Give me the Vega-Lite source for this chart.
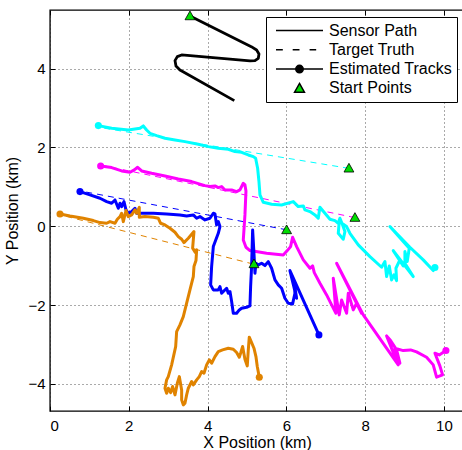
{
  "$schema": "https://vega.github.io/schema/vega-lite/v6.json",
  "autosize": {"type": "none"},
  "width": 414,
  "height": 401,
  "padding": {"left": 50, "top": 10, "right": 0, "bottom": 39},
  "background": "white",
  "config": {
    "view": {"stroke": "black", "strokeWidth": 1.4},
    "font": "Liberation Sans",
    "axis": {
      "labelFont": "Liberation Sans", "labelFontSize": 15, "labelColor": "black",
      "titleFont": "Liberation Sans", "titleFontSize": 16, "titleFontWeight": "normal", "titleColor": "black",
      "gridColor": "#555", "gridDash": [1, 3], "gridWidth": 1, "gridOpacity": 1,
      "domain": false, "tickColor": "black", "tickSize": -5, "tickWidth": 1
    }
  },
  "datasets": {
    "truth": [
      {"t": "c", "i": 0, "x": 7.59, "y": 1.47}, {"t": "c", "i": 1, "x": 1.25, "y": 2.51},
      {"t": "m", "i": 0, "x": 7.74, "y": 0.22}, {"t": "m", "i": 1, "x": 1.3, "y": 1.55},
      {"t": "b", "i": 0, "x": 6.01, "y": -0.09}, {"t": "b", "i": 1, "x": 0.8, "y": 0.89},
      {"t": "o", "i": 0, "x": 5.16, "y": -0.96}, {"t": "o", "i": 1, "x": 0.3, "y": 0.28}
    ],
    "sensor": [
      {"i": 0, "x": 3.553, "y": 5.338}, {"i": 1, "x": 5.11, "y": 4.56}, {"i": 2, "x": 5.245, "y": 4.475},
      {"i": 3, "x": 5.305, "y": 4.374}, {"i": 4, "x": 5.288, "y": 4.264}, {"i": 5, "x": 5.203, "y": 4.205},
      {"i": 6, "x": 5.076, "y": 4.196}, {"i": 7, "x": 3.342, "y": 4.349}, {"i": 8, "x": 3.232, "y": 4.306},
      {"i": 9, "x": 3.173, "y": 4.205}, {"i": 10, "x": 3.198, "y": 4.069}, {"i": 11, "x": 3.299, "y": 3.968},
      {"i": 12, "x": 4.679, "y": 3.19}
    ],
    "ends": [
      {"t": "c", "x": 1.227, "y": 2.555}, {"t": "c", "x": 9.772, "y": -1.049},
      {"t": "m", "x": 1.286, "y": 1.531}, {"t": "m", "x": 10.051, "y": -3.156},
      {"t": "b", "x": 0.761, "y": 0.88}, {"t": "b", "x": 6.827, "y": -2.758},
      {"t": "o", "x": 0.254, "y": 0.313}, {"t": "o", "x": 5.313, "y": -3.833}
    ],
    "starts": [
      {"kind": "Start Points", "x": 3.553, "y": 5.338},
      {"kind": "Start Points", "x": 7.589, "y": 1.472},
      {"kind": "Start Points", "x": 7.741, "y": 0.22},
      {"kind": "Start Points", "x": 6.007, "y": -0.093},
      {"kind": "Start Points", "x": 5.178, "y": -0.956}
    ],
    "tracks": [
      {"t":"c","i":0,"x":1.227,"y":2.555},{"t":"c","i":1,"x":1.565,"y":2.487},{"t":"c","i":2,"x":1.988,"y":2.445},
      {"t":"c","i":3,"x":2.284,"y":2.487},{"t":"c","i":4,"x":2.369,"y":2.547},{"t":"c","i":5,"x":2.453,"y":2.445},
      {"t":"c","i":6,"x":2.538,"y":2.36},{"t":"c","i":7,"x":2.707,"y":2.301},{"t":"c","i":8,"x":2.919,"y":2.234},
      {"t":"c","i":9,"x":3.173,"y":2.191},{"t":"c","i":10,"x":3.426,"y":2.149},{"t":"c","i":11,"x":3.765,"y":2.081},
      {"t":"c","i":12,"x":4.019,"y":2.022},{"t":"c","i":13,"x":4.272,"y":1.98},{"t":"c","i":14,"x":4.526,"y":1.954},
      {"t":"c","i":15,"x":4.695,"y":1.895},{"t":"c","i":16,"x":4.865,"y":1.878},{"t":"c","i":17,"x":5.034,"y":1.81},
      {"t":"c","i":18,"x":5.161,"y":1.768},{"t":"c","i":19,"x":5.22,"y":1.726},{"t":"c","i":20,"x":5.271,"y":1.472},
      {"t":"c","i":21,"x":5.305,"y":1.134},{"t":"c","i":22,"x":5.33,"y":0.795},{"t":"c","i":23,"x":5.415,"y":0.609},
      {"t":"c","i":24,"x":5.626,"y":0.558},{"t":"c","i":25,"x":5.88,"y":0.541},{"t":"c","i":26,"x":6.176,"y":0.626},
      {"t":"c","i":27,"x":6.303,"y":0.499},{"t":"c","i":28,"x":6.43,"y":0.516},{"t":"c","i":29,"x":6.472,"y":0.415},
      {"t":"c","i":30,"x":6.599,"y":0.372},{"t":"c","i":31,"x":6.726,"y":0.288},{"t":"c","i":32,"x":6.81,"y":0.203},
      {"t":"c","i":33,"x":6.853,"y":0.482},{"t":"c","i":34,"x":6.98,"y":0.33},{"t":"c","i":35,"x":7.107,"y":0.178},
      {"t":"c","i":36,"x":7.234,"y":0.144},{"t":"c","i":37,"x":7.318,"y":0.076},{"t":"c","i":38,"x":7.36,"y":0.203},
      {"t":"c","i":39,"x":7.428,"y":0.034},{"t":"c","i":40,"x":7.487,"y":-0.135},{"t":"c","i":41,"x":7.445,"y":-0.33},
      {"t":"c","i":42,"x":7.318,"y":-0.178},{"t":"c","i":43,"x":7.343,"y":0.118},{"t":"c","i":44,"x":7.53,"y":-0.008},
      {"t":"c","i":45,"x":7.614,"y":-0.178},{"t":"c","i":46,"x":7.826,"y":-0.474},{"t":"c","i":47,"x":8.122,"y":-0.77},
      {"t":"c","i":48,"x":8.418,"y":-1.041},{"t":"c","i":49,"x":8.503,"y":-0.897},{"t":"c","i":50,"x":8.545,"y":-1.277},
      {"t":"c","i":51,"x":8.613,"y":-1.007},{"t":"c","i":52,"x":8.672,"y":-1.362},{"t":"c","i":53,"x":8.731,"y":-1.235},
      {"t":"c","i":54,"x":8.799,"y":-1.379},{"t":"c","i":55,"x":8.782,"y":-1.066},{"t":"c","i":56,"x":8.883,"y":-0.854},
      {"t":"c","i":57,"x":8.968,"y":-1.007},{"t":"c","i":58,"x":8.714,"y":-0.618},{"t":"c","i":59,"x":9.222,"y":-1.277},
      {"t":"c","i":60,"x":9.01,"y":-0.939},{"t":"c","i":61,"x":9.01,"y":-0.643},{"t":"c","i":62,"x":9.069,"y":-0.897},
      {"t":"c","i":63,"x":9.12,"y":-0.558},{"t":"c","i":64,"x":8.629,"y":-0.008},{"t":"c","i":65,"x":9.137,"y":-0.533},
      {"t":"c","i":66,"x":9.475,"y":-0.854},{"t":"c","i":67,"x":9.729,"y":-1.125},{"t":"c","i":68,"x":9.772,"y":-1.049},

      {"t":"m","i":0,"x":1.286,"y":1.531},{"t":"m","i":1,"x":1.565,"y":1.489},{"t":"m","i":2,"x":1.819,"y":1.404},
      {"t":"m","i":3,"x":2.03,"y":1.371},{"t":"m","i":4,"x":2.14,"y":1.43},{"t":"m","i":5,"x":2.225,"y":1.497},
      {"t":"m","i":6,"x":2.327,"y":1.404},{"t":"m","i":7,"x":2.58,"y":1.345},{"t":"m","i":8,"x":2.919,"y":1.277},
      {"t":"m","i":9,"x":3.257,"y":1.201},{"t":"m","i":10,"x":3.596,"y":1.134},{"t":"m","i":11,"x":3.934,"y":1.032},
      {"t":"m","i":12,"x":4.061,"y":1.007},{"t":"m","i":13,"x":4.188,"y":1.024},{"t":"m","i":14,"x":4.272,"y":0.981},
      {"t":"m","i":15,"x":4.357,"y":1.007},{"t":"m","i":16,"x":4.442,"y":0.922},{"t":"m","i":17,"x":4.611,"y":0.922},
      {"t":"m","i":18,"x":4.738,"y":0.88},{"t":"m","i":19,"x":4.822,"y":0.922},{"t":"m","i":20,"x":4.907,"y":1.091},
      {"t":"m","i":21,"x":4.949,"y":1.049},{"t":"m","i":22,"x":4.975,"y":0.897},{"t":"m","i":23,"x":4.949,"y":0.288},
      {"t":"m","i":24,"x":4.907,"y":-0.347},{"t":"m","i":25,"x":4.975,"y":-0.533},{"t":"m","i":26,"x":5.076,"y":-0.618},
      {"t":"m","i":27,"x":5.499,"y":-0.685},{"t":"m","i":28,"x":5.922,"y":-0.728},{"t":"m","i":29,"x":6.024,"y":-0.618},
      {"t":"m","i":30,"x":6.108,"y":-0.516},{"t":"m","i":31,"x":6.159,"y":-0.279},{"t":"m","i":32,"x":6.261,"y":-0.516},
      {"t":"m","i":33,"x":6.43,"y":-0.854},{"t":"m","i":34,"x":6.599,"y":-1.066},{"t":"m","i":35,"x":6.667,"y":-1.007},
      {"t":"m","i":36,"x":6.709,"y":-1.176},{"t":"m","i":37,"x":6.853,"y":-1.447},{"t":"m","i":38,"x":7.022,"y":-1.743},
      {"t":"m","i":39,"x":7.149,"y":-1.997},{"t":"m","i":40,"x":7.259,"y":-2.208},{"t":"m","i":41,"x":7.191,"y":-1.32},
      {"t":"m","i":42,"x":7.343,"y":-2.25},{"t":"m","i":43,"x":7.403,"y":-1.87},{"t":"m","i":44,"x":7.53,"y":-2.208},
      {"t":"m","i":45,"x":7.572,"y":-1.701},{"t":"m","i":46,"x":7.699,"y":-2.124},{"t":"m","i":47,"x":7.783,"y":-1.954},
      {"t":"m","i":48,"x":7.91,"y":-2.208},{"t":"m","i":49,"x":7.276,"y":-0.939},{"t":"m","i":50,"x":7.953,"y":-2.25},
      {"t":"m","i":51,"x":8.841,"y":-3.519},{"t":"m","i":52,"x":8.545,"y":-2.783},{"t":"m","i":53,"x":8.646,"y":-2.902},
      {"t":"m","i":54,"x":8.799,"y":-3.139},{"t":"m","i":55,"x":8.883,"y":-3.477},{"t":"m","i":56,"x":8.756,"y":-3.096},
      {"t":"m","i":57,"x":8.968,"y":-3.156},{"t":"m","i":58,"x":9.154,"y":-3.139},{"t":"m","i":59,"x":9.306,"y":-3.19},
      {"t":"m","i":60,"x":9.56,"y":-3.325},{"t":"m","i":61,"x":9.729,"y":-3.519},{"t":"m","i":62,"x":9.814,"y":-3.832},
      {"t":"m","i":63,"x":9.966,"y":-3.773},{"t":"m","i":64,"x":9.898,"y":-3.545},{"t":"m","i":65,"x":9.772,"y":-3.223},
      {"t":"m","i":66,"x":9.882,"y":-3.266},{"t":"m","i":67,"x":10.051,"y":-3.156},

      {"t":"b","i":0,"x":0.761,"y":0.88},{"t":"b","i":1,"x":1.015,"y":0.795},{"t":"b","i":2,"x":1.269,"y":0.711},
      {"t":"b","i":3,"x":1.438,"y":0.626},{"t":"b","i":4,"x":1.565,"y":0.584},{"t":"b","i":5,"x":1.65,"y":0.668},
      {"t":"b","i":6,"x":1.734,"y":0.457},{"t":"b","i":7,"x":1.777,"y":0.584},{"t":"b","i":8,"x":1.819,"y":0.499},
      {"t":"b","i":9,"x":1.878,"y":0.626},{"t":"b","i":10,"x":1.929,"y":0.415},{"t":"b","i":11,"x":1.988,"y":0.33},
      {"t":"b","i":12,"x":2.073,"y":0.372},{"t":"b","i":13,"x":2.157,"y":0.457},{"t":"b","i":14,"x":2.2,"y":0.33},
      {"t":"b","i":15,"x":2.284,"y":0.33},{"t":"b","i":16,"x":2.623,"y":0.33},{"t":"b","i":17,"x":2.961,"y":0.313},
      {"t":"b","i":18,"x":3.299,"y":0.288},{"t":"b","i":19,"x":3.469,"y":0.262},{"t":"b","i":20,"x":3.638,"y":0.288},
      {"t":"b","i":21,"x":3.723,"y":0.203},{"t":"b","i":22,"x":3.807,"y":0.245},{"t":"b","i":23,"x":3.934,"y":0.161},
      {"t":"b","i":24,"x":4.061,"y":0.203},{"t":"b","i":25,"x":4.146,"y":0.33},{"t":"b","i":26,"x":4.188,"y":0.313},
      {"t":"b","i":27,"x":4.23,"y":0.034},{"t":"b","i":28,"x":4.272,"y":0.118},{"t":"b","i":29,"x":4.315,"y":-0.008},
      {"t":"b","i":30,"x":4.272,"y":-0.178},{"t":"b","i":31,"x":4.146,"y":-0.516},{"t":"b","i":32,"x":4.103,"y":-1.024},
      {"t":"b","i":33,"x":4.078,"y":-1.489},{"t":"b","i":34,"x":4.146,"y":-1.616},{"t":"b","i":35,"x":4.272,"y":-1.616},
      {"t":"b","i":36,"x":4.315,"y":-1.531},{"t":"b","i":37,"x":4.357,"y":-1.701},{"t":"b","i":38,"x":4.484,"y":-1.574},
      {"t":"b","i":39,"x":4.526,"y":-1.701},{"t":"b","i":40,"x":4.569,"y":-1.658},{"t":"b","i":41,"x":4.611,"y":-1.912},
      {"t":"b","i":42,"x":4.653,"y":-2.208},{"t":"b","i":43,"x":4.738,"y":-2.208},{"t":"b","i":44,"x":4.805,"y":-2.124},
      {"t":"b","i":45,"x":4.865,"y":-2.081},{"t":"b","i":46,"x":4.992,"y":-2.056},{"t":"b","i":47,"x":5.076,"y":-2.022},
      {"t":"b","i":48,"x":5.093,"y":-1.531},{"t":"b","i":49,"x":5.118,"y":-1.024},{"t":"b","i":50,"x":5.144,"y":-0.093},
      {"t":"b","i":51,"x":5.178,"y":-0.685},{"t":"b","i":52,"x":5.203,"y":-1.193},{"t":"b","i":53,"x":5.228,"y":-0.939},
      {"t":"b","i":54,"x":5.288,"y":-0.981},{"t":"b","i":55,"x":5.372,"y":-0.939},{"t":"b","i":56,"x":5.457,"y":-0.998},
      {"t":"b","i":57,"x":5.541,"y":-0.897},{"t":"b","i":58,"x":5.626,"y":-1.066},{"t":"b","i":59,"x":5.711,"y":-1.362},
      {"t":"b","i":60,"x":5.795,"y":-1.489},{"t":"b","i":61,"x":5.88,"y":-1.574},{"t":"b","i":62,"x":5.964,"y":-1.827},
      {"t":"b","i":63,"x":6.049,"y":-1.954},{"t":"b","i":64,"x":6.159,"y":-1.971},{"t":"b","i":65,"x":6.218,"y":-1.701},
      {"t":"b","i":66,"x":6.193,"y":-1.404},{"t":"b","i":67,"x":6.261,"y":-1.827},{"t":"b","i":68,"x":6.091,"y":-1.125},
      {"t":"b","i":69,"x":6.827,"y":-2.758},

      {"t":"o","i":0,"x":0.254,"y":0.313},{"t":"o","i":1,"x":0.508,"y":0.262},{"t":"o","i":2,"x":0.846,"y":0.203},
      {"t":"o","i":3,"x":1.1,"y":0.144},{"t":"o","i":4,"x":1.269,"y":0.093},{"t":"o","i":5,"x":1.438,"y":0.076},
      {"t":"o","i":6,"x":1.523,"y":0.118},{"t":"o","i":7,"x":1.65,"y":0.076},{"t":"o","i":8,"x":1.709,"y":0.178},
      {"t":"o","i":9,"x":1.777,"y":0.245},{"t":"o","i":10,"x":1.819,"y":0.33},{"t":"o","i":11,"x":1.861,"y":0.118},
      {"t":"o","i":12,"x":1.929,"y":0.398},{"t":"o","i":13,"x":1.988,"y":0.245},{"t":"o","i":14,"x":2.073,"y":0.288},
      {"t":"o","i":15,"x":2.157,"y":0.415},{"t":"o","i":16,"x":2.2,"y":0.33},{"t":"o","i":17,"x":2.267,"y":0.482},
      {"t":"o","i":18,"x":2.267,"y":0.228},{"t":"o","i":19,"x":2.411,"y":0.245},{"t":"o","i":20,"x":2.623,"y":0.228},
      {"t":"o","i":21,"x":2.75,"y":0.203},{"t":"o","i":22,"x":2.809,"y":0.076},{"t":"o","i":23,"x":2.919,"y":0.034},
      {"t":"o","i":24,"x":3.046,"y":-0.051},{"t":"o","i":25,"x":3.173,"y":-0.152},{"t":"o","i":26,"x":3.257,"y":-0.262},
      {"t":"o","i":27,"x":3.342,"y":-0.33},{"t":"o","i":28,"x":3.401,"y":-0.415},{"t":"o","i":29,"x":3.511,"y":-0.305},
      {"t":"o","i":30,"x":3.655,"y":-0.135},{"t":"o","i":31,"x":3.621,"y":-0.558},{"t":"o","i":32,"x":3.689,"y":-0.668},
      {"t":"o","i":33,"x":3.723,"y":-0.601},{"t":"o","i":34,"x":3.706,"y":-0.871},{"t":"o","i":35,"x":3.655,"y":-1.024},
      {"t":"o","i":36,"x":3.638,"y":-1.277},{"t":"o","i":37,"x":3.553,"y":-1.616},{"t":"o","i":38,"x":3.469,"y":-1.954},
      {"t":"o","i":39,"x":3.384,"y":-2.293},{"t":"o","i":40,"x":3.299,"y":-2.504},{"t":"o","i":41,"x":3.215,"y":-2.673},
      {"t":"o","i":42,"x":3.19,"y":-3.054},{"t":"o","i":43,"x":3.088,"y":-3.519},{"t":"o","i":44,"x":3.003,"y":-3.816},
      {"t":"o","i":45,"x":2.961,"y":-3.9},{"t":"o","i":46,"x":2.919,"y":-4.112},{"t":"o","i":47,"x":2.961,"y":-4.239},
      {"t":"o","i":48,"x":3.003,"y":-4.112},{"t":"o","i":49,"x":3.063,"y":-4.222},{"t":"o","i":50,"x":3.113,"y":-4.069},
      {"t":"o","i":51,"x":3.173,"y":-4.281},{"t":"o","i":52,"x":3.232,"y":-3.985},{"t":"o","i":53,"x":3.283,"y":-3.816},
      {"t":"o","i":54,"x":3.342,"y":-4.154},{"t":"o","i":55,"x":3.342,"y":-4.408},{"t":"o","i":56,"x":3.384,"y":-4.535},
      {"t":"o","i":57,"x":3.426,"y":-4.492},{"t":"o","i":58,"x":3.469,"y":-4.281},{"t":"o","i":59,"x":3.511,"y":-4.112},
      {"t":"o","i":60,"x":3.596,"y":-3.942},{"t":"o","i":61,"x":3.638,"y":-4.027},{"t":"o","i":62,"x":3.723,"y":-3.9},
      {"t":"o","i":63,"x":3.79,"y":-3.816},{"t":"o","i":64,"x":3.849,"y":-3.689},{"t":"o","i":65,"x":3.909,"y":-3.731},
      {"t":"o","i":66,"x":3.976,"y":-3.519},{"t":"o","i":67,"x":4.044,"y":-3.393},{"t":"o","i":68,"x":4.103,"y":-3.477},
      {"t":"o","i":69,"x":4.188,"y":-3.308},{"t":"o","i":70,"x":4.272,"y":-3.181},{"t":"o","i":71,"x":4.382,"y":-3.139},
      {"t":"o","i":72,"x":4.526,"y":-3.096},{"t":"o","i":73,"x":4.653,"y":-3.122},{"t":"o","i":74,"x":4.738,"y":-3.206},
      {"t":"o","i":75,"x":4.805,"y":-3.325},{"t":"o","i":76,"x":4.839,"y":-3.223},{"t":"o","i":77,"x":4.89,"y":-3.054},
      {"t":"o","i":78,"x":4.949,"y":-3.376},{"t":"o","i":79,"x":5.008,"y":-3.545},{"t":"o","i":80,"x":5.034,"y":-3.139},
      {"t":"o","i":81,"x":5.059,"y":-2.817},{"t":"o","i":82,"x":5.118,"y":-2.953},{"t":"o","i":83,"x":5.178,"y":-3.096},
      {"t":"o","i":84,"x":5.228,"y":-3.308},{"t":"o","i":85,"x":5.262,"y":-3.562},{"t":"o","i":86,"x":5.313,"y":-3.833}
    ]
  },
  "resolve": {"axis": {"x": "independent"}},
  "layer": [
    {
      "data": {"name": "truth"},
      "mark": {"type": "line", "strokeWidth": 1, "strokeDash": [6, 5]},
      "encoding": {
        "x": {"field": "x", "type": "quantitative", "scale": {"domain": [0, 10.51], "nice": false, "zero": false},
              "axis": {"values": [0, 2, 4, 6, 8, 10], "title": "X Position (km)", "labelPadding": 12, "titlePadding": 1}},
        "y": {"field": "y", "type": "quantitative", "scale": {"domain": [-4.69, 5.49], "nice": false, "zero": false},
              "axis": {"values": [-4, -2, 0, 2, 4], "title": "Y Position (km)", "labelPadding": 10, "titlePadding": 7}},
        "color": {"field": "t", "type": "nominal", "scale": {"domain": ["c", "m", "b", "o"], "range": ["#00FFFF", "#FF00FF", "#0000FF", "#E08300"]}, "legend": null},
        "order": {"field": "i", "type": "quantitative"}
      }
    },
    {
      "data": {"name": "sensor"},
      "mark": {"type": "line", "color": "black", "strokeWidth": 2.8, "strokeJoin": "round"},
      "encoding": {
        "x": {"field": "x", "type": "quantitative", "scale": {"domain": [0, 10.51], "nice": false, "zero": false},
              "axis": {"orient": "top", "values": [0, 2, 4, 6, 8, 10], "labels": false, "grid": false, "title": null}},
        "y": {"field": "y", "type": "quantitative", "title": "Y Position (km)"},
        "order": {"field": "i", "type": "quantitative"}
      }
    },
    {
      "data": {"name": "tracks"},
      "mark": {"type": "line", "strokeWidth": 3, "strokeJoin": "round"},
      "encoding": {
        "x": {"field": "x", "type": "quantitative", "axis": null},
        "y": {"field": "y", "type": "quantitative", "title": "Y Position (km)"},
        "color": {"field": "t", "type": "nominal", "legend": null},
        "order": {"field": "i", "type": "quantitative"}
      }
    },
    {
      "data": {"name": "ends"},
      "mark": {"type": "point", "filled": true, "opacity": 1, "size": 50},
      "encoding": {
        "x": {"field": "x", "type": "quantitative", "axis": null},
        "y": {"field": "y", "type": "quantitative", "title": "Y Position (km)"},
        "color": {"field": "t", "type": "nominal", "legend": null}
      }
    },
    {
      "data": {"name": "starts"},
      "mark": {"type": "point", "filled": true, "opacity": 1, "size": 2209, "stroke": "black", "strokeWidth": 0.8},
      "encoding": {
        "x": {"field": "x", "type": "quantitative", "axis": null},
        "y": {"field": "y", "type": "quantitative", "title": "Y Position (km)"},
        "shape": {
          "field": "kind", "type": "nominal",
          "scale": {
            "domain": ["Sensor Path", "Target Truth", "Estimated Tracks", "Start Points"],
            "range": [
              "M-1,0H1",
              "M-1,0H-0.71M-0.29,0H0M0.43,0H0.71",
              "M-1,0H1M0.16,0A0.16,0.16,0,1,1,-0.16,0A0.16,0.16,0,1,1,0.16,0Z",
              "M0,-0.21L0.21,0.16L-0.21,0.16Z"
            ]
          },
          "legend": {
            "title": null, "orient": "none", "legendX": 216, "legendY": 7,
            "symbolSize": 2209, "clipHeight": 17, "rowPadding": 2.3, "padding": 5, "symbolOffset": 4,
            "labelFont": "Liberation Sans", "labelFontSize": 16, "labelColor": "black", "labelOffset": 5, "labelLimit": 300,
            "strokeColor": "black", "fillColor": "white",
            "encode": {"symbols": {"update": {
              "stroke": {"value": "black"},
              "opacity": {"value": 1},
              "strokeWidth": {"signal": "datum.value === 'Target Truth' || datum.value === 'Start Points' ? 1 : 3"}
            }}}
          }
        },
        "fill": {
          "field": "kind", "type": "nominal",
          "scale": {"domain": ["Sensor Path", "Target Truth", "Estimated Tracks", "Start Points"], "range": ["black", "black", "black", "#00DD00"]},
          "legend": {"title": null}
        }
      }
    }
  ]
}
